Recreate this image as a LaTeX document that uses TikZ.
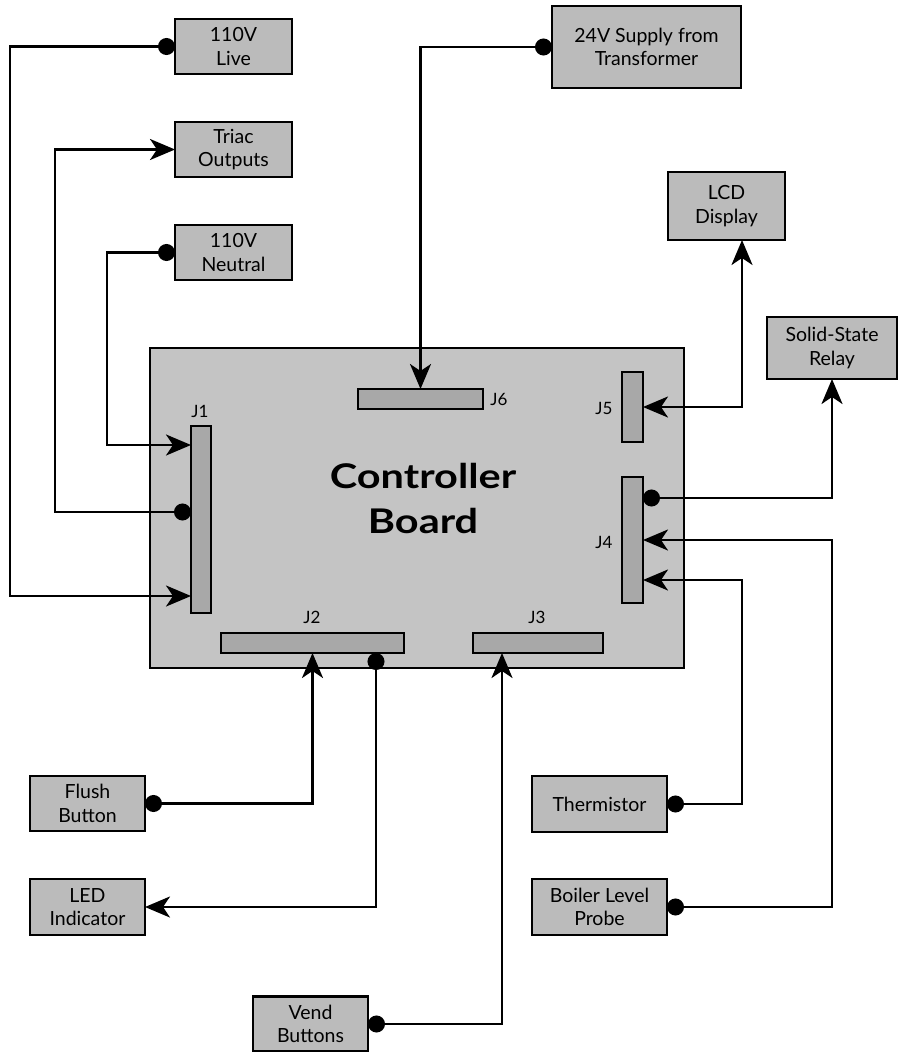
\documentclass[tikz,border=0pt]{standalone}
\usepackage{fontspec}
\setmainfont{Lato}
\usetikzlibrary{arrows.meta}
\definecolor{boxfill}{HTML}{BBBBBB}
\definecolor{boardfill}{HTML}{C4C4C4}
\definecolor{connfill}{HTML}{A8A8A8}
\begin{document}
\begin{tikzpicture}[x=1pt,y=-1pt,
  every node/.style={inner sep=0pt, outer sep=0pt},
  box/.style={draw, line width=2.6pt, fill=boxfill, align=center, font=\fontsize{19.5}{23.5}\selectfont},
  conn/.style={draw, line width=2.2pt, fill=connfill},
  jlabel/.style={font=\fontsize{17}{19}\selectfont},
  wire/.style={line width=2.6pt},
  tipA/.tip={Stealth[length=25pt,width=21pt,inset=7pt]},
  tipD/.tip={Circle[length=17pt]},
  dotarr/.style={wire, tipD-tipA},
  arrarr/.style={wire, tipA-tipA}
]
\useasboundingbox (0,0) rectangle (899,1052);

% board
\node[draw, line width=2.6pt, fill=boardfill, minimum width=534pt, minimum height=320pt] (board) at (417,508) {};
\node[align=center, font=\fontsize{34}{45}\selectfont\bfseries] (title) at (423,498) {\scalebox{1.22}[1]{Controller}\\\scalebox{1.22}[1]{Board}};

% connectors on board
\node[conn, minimum width=20pt, minimum height=187pt] (J1) at (201,519.5) {};
\node[conn, minimum width=125pt, minimum height=20pt] (J6) at (420.5,399) {};
\node[conn, minimum width=21pt, minimum height=70pt] (J5) at (632.5,407) {};
\node[conn, minimum width=21pt, minimum height=126pt] (J4) at (632.5,540) {};
\node[conn, minimum width=183pt, minimum height=20pt] (J2) at (312.5,643) {};
\node[conn, minimum width=130pt, minimum height=20pt] (J3) at (538,643) {};

\node[jlabel] (lJ1) at (200,411) {J1};
\node[jlabel] (lJ6) at (499,399) {J6};
\node[jlabel] (lJ5) at (604,408) {J5};
\node[jlabel] (lJ4) at (604,542) {J4};
\node[jlabel] (lJ2) at (312,617) {J2};
\node[jlabel] (lJ3) at (537,617) {J3};

% external boxes
\node[box, minimum width=117pt, minimum height=55pt] (live) at (233.5,46.5) {110V\\Live};
\node[box, minimum width=117pt, minimum height=55pt] (triac) at (233.5,149.5) {Triac\\Outputs};
\node[box, minimum width=117pt, minimum height=55pt] (neutral) at (233.5,252.5) {110V\\Neutral};
\node[box, minimum width=189pt, minimum height=82pt] (supply) at (646.5,47) {24V Supply from\\Transformer};
\node[box, minimum width=117pt, minimum height=68pt] (lcd) at (726.5,206) {LCD\\Display};
\node[box, minimum width=130pt, minimum height=62pt] (ssr) at (832,348) {Solid-State\\Relay};
\node[box, minimum width=115pt, minimum height=55pt] (flush) at (87.5,803.5) {Flush\\Button};
\node[box, minimum width=115pt, minimum height=56pt] (led) at (87.5,907) {LED\\Indicator};
\node[box, minimum width=115pt, minimum height=55pt] (vend) at (310.5,1024) {Vend\\Buttons};
\node[box, minimum width=135pt, minimum height=56pt] (therm) at (599.5,804) {Thermistor};
\node[box, minimum width=135pt, minimum height=56pt] (boiler) at (599.5,907) {Boiler Level\\Probe};

% routing coordinates
\coordinate (cLive) at (10,596);
\coordinate (cTri) at (55,512);
\coordinate (cNeu) at (107,445);
\coordinate (cLcd) at (742,407);
\coordinate (cSsr) at (832,498);
\coordinate (cBoi) at (832,540);
\coordinate (cTh) at (742,580);
\coordinate (cLed) at (376,907);
\coordinate (cVend) at (502,0);

% wires
\draw[dotarr] (live.west) -| (cLive) -- (J1.west |- cLive);
\draw[dotarr] (J1.west |- cTri) -- (cTri) |- (triac.west);
\draw[dotarr] (neutral.west) -| (cNeu) -- (J1.west |- cNeu);
\draw[dotarr] (supply.west) -| (J6.north);
\draw[arrarr] (J5.east) -| (lcd.south -| cLcd);
\draw[dotarr] (J4.east |- cSsr) -| (ssr.south);
\draw[dotarr] (boiler.east) -| (cBoi) -- (J4.east |- cBoi);
\draw[dotarr] (therm.east) -| (cTh) -- (J4.east |- cTh);
\draw[dotarr] (flush.east) -| (J2.south);
\draw[dotarr] (J2.south -| cLed) |- (led.east);
\draw[dotarr] (vend.east) -| (J3.south -| cVend);
\end{tikzpicture}
\end{document}
